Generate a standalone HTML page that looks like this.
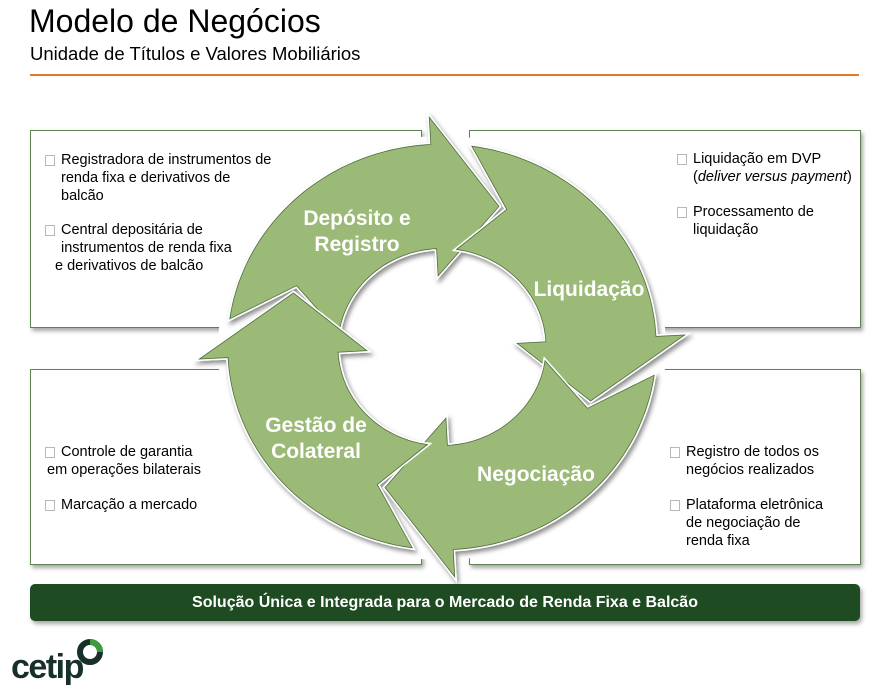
<!DOCTYPE html>
<html><head><meta charset="utf-8"><style>
body{margin:0;width:878px;height:692px;background:#fff;position:relative;overflow:hidden;font-family:"Liberation Sans",Arial,sans-serif;color:#000}
.a{position:absolute;white-space:nowrap}
.box{position:absolute;border:1.5px solid #5e8250;box-shadow:2px 3px 4px rgba(0,0,0,0.35);background:#fff}
.t{position:absolute;font-size:14.5px;line-height:18px;white-space:nowrap}
.b{position:absolute;width:8px;height:9px;border:1px solid #b8b8b8}
.lbl{font-family:"Liberation Sans",Arial,sans-serif;font-weight:bold;font-size:21px;fill:#fff;text-anchor:middle}
</style></head><body>
<div class="a" style="left:29px;top:3px;font-size:32px">Modelo de Negócios</div>
<div class="a" style="left:30px;top:43px;font-size:18.5px">Unidade de Títulos e Valores Mobiliários</div>
<div class="a" style="left:30px;top:74px;width:829px;height:2px;background:#e47b22"></div>

<div class="box" style="left:30px;top:130px;width:390px;height:196px"></div>
<div class="box" style="left:469px;top:130px;width:390px;height:196px"></div>
<div class="box" style="left:30px;top:369px;width:390px;height:194px"></div>
<div class="box" style="left:469px;top:369px;width:390px;height:194px"></div>

<div class="b" style="left:45px;top:155px"></div>
<div class="t" style="left:61px;top:151px">Registradora de instrumentos de<br>renda fixa e derivativos de<br>balcão</div>
<div class="b" style="left:45px;top:225px"></div>
<div class="t" style="left:61px;top:221px">Central depositária de<br>instrumentos de renda fixa<br><span style="margin-left:-6px">e derivativos de balcão</span></div>

<div class="b" style="left:677px;top:154px"></div>
<div class="t" style="left:693px;top:150px">Liquidação em DVP<br>(<i>deliver versus payment</i>)</div>
<div class="b" style="left:677px;top:207px"></div>
<div class="t" style="left:693px;top:203px">Processamento de<br>liquidação</div>

<div class="b" style="left:45px;top:447px"></div>
<div class="t" style="left:61px;top:443px">Controle de garantia<br><span style="margin-left:-14px">em operações bilaterais</span></div>
<div class="b" style="left:45px;top:500px"></div>
<div class="t" style="left:61px;top:496px">Marcação a mercado</div>

<div class="b" style="left:670px;top:447px"></div>
<div class="t" style="left:686px;top:443px">Registro de todos os<br>negócios realizados</div>
<div class="b" style="left:670px;top:500px"></div>
<div class="t" style="left:686px;top:496px">Plataforma eletrônica<br>de negociação de<br>renda fixa</div>

<svg id="s" width="878" height="692" style="position:absolute;left:0;top:0">
<defs><filter id="sh" x="-20%" y="-20%" width="140%" height="140%"><feDropShadow dx="2" dy="3" stdDeviation="2.5" flood-color="#000" flood-opacity="0.45"/></filter></defs>
<ellipse cx="442" cy="348" rx="224" ry="212" fill="#fff"/>
<g id="arr" filter="url(#sh)"></g>
<text class="lbl" x="357" y="225">Depósito e</text>
<text class="lbl" x="357" y="251">Registro</text>
<text class="lbl" x="589" y="296">Liquidação</text>
<text class="lbl" x="536" y="481">Negociação</text>
<text class="lbl" x="316" y="432">Gestão de</text>
<text class="lbl" x="316" y="458">Colateral</text>
</svg>
<script>
(function(){
var cx=442,cy=347,R=208,r=101,H=28,sx=1.03,sy=0.975;
function p(a,rad){a=a*Math.PI/180;return (cx+rad*Math.cos(a)*sx).toFixed(1)+','+(cy+rad*Math.sin(a)*sy).toFixed(1);}
var g=document.getElementById('arr'),out='';
[-93,-3,87,177].forEach(function(b){
  var t=b+24,pb=b-90,s=pb+11,n=pb+27,m=(R+r)/2,pts=[];
  pts.push(p(s,r));pts.push(p(n,m));pts.push(p(s,R));
  for(var a=s;a<=b;a+=2)pts.push(p(a,R));
  pts.push(p(b,R));pts.push(p(b,R+H));pts.push(p(t,m));pts.push(p(b,r-H));pts.push(p(b,r));
  for(var a=b;a>=s;a-=2)pts.push(p(a,r));
  out+='<polygon points="'+pts.join(' ')+'" fill="#9bb977" stroke="#fff" stroke-width="4" stroke-linejoin="miter"/>';
  out+='<polygon points="'+pts.join(' ')+'" fill="#9bb977" stroke="#4f6e3c" stroke-width="0.8"/>';
});
g.innerHTML=out;
})();
</script>

<div class="a" style="left:30px;top:584px;width:830px;height:37px;background:#1e4b21;border-radius:5px;box-shadow:2px 3px 4px rgba(0,0,0,0.35);color:#fff;font-weight:bold;font-size:16px;line-height:37px;text-align:center">Solução Única e Integrada para o Mercado de Renda Fixa e Balcão</div>

<div class="a" style="left:11px;top:648px;font-size:34px;font-weight:bold;color:#17302c;letter-spacing:-1.5px">cetip</div>
<svg width="40" height="40" style="position:absolute;left:72px;top:634px">
<circle cx="18" cy="18" r="10" fill="none" stroke="#17302c" stroke-width="6"/>
<path d="M18 8 A10 10 0 0 1 28 18" fill="none" stroke="#3e9a3a" stroke-width="6"/>
</svg>
</body></html>
